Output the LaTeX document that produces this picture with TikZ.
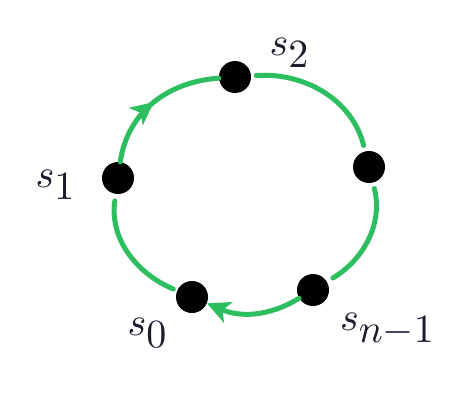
\documentclass[tikz,border=0pt]{standalone}
\usetikzlibrary{arrows.meta,decorations.markings}
\definecolor{mk}{RGB}{45,190,95}
\definecolor{ink}{RGB}{30,25,45}
\begin{document}
\begin{tikzpicture}[x=1pt,y=1pt,
  dot/.style={circle,fill=black,minimum size=32pt,inner sep=0pt},
  arc/.style={draw=mk,line width=5pt,line cap=round},
  lbl/.style={scale=4,text=ink},
  tip/.style={-{Stealth[length=23pt,width=22pt,inset=6pt]}},
  midarrow/.style={decoration={markings,mark=at position #1 with {\arrow{Stealth[length=23pt,width=22pt,inset=6pt]}}},postaction={decorate}}]
\useasboundingbox[fill=white] (0,0) rectangle (465,-401);
\node[dot] (s2) at (235,-77) {};
\node[dot] (r)  at (369,-167) {};
\node[dot] (s1) at (118,-178) {};
\node[dot] (sn) at (313,-290) {};
\node[dot] (s0) at (192,-297) {};
\node[lbl] (l2) at (290,-53) {$s_{\textstyle 2}$};
\node[lbl] (l1) at (56,-185) {$s_{\textstyle 1}$};
\node[lbl] (l0) at (148,-333) {$s_{\textstyle 0}$};
\node[lbl] (ln) at (388,-330) {$s_{\textstyle n{-}1}$};
\draw[arc,midarrow=0.5] (s1) to[out=82,in=184] (s2);
\draw[arc,shorten <=5pt,shorten >=6pt] (s2) to[out=4,in=104] (r);
\draw[arc,shorten <=6pt,shorten >=7pt] (r) to[out=-76,in=31] (sn);
\draw[arc,tip] (sn) to[out=211,in=-23] (s0);
\draw[arc,shorten <=4pt,shorten >=7pt] (s0) to[out=157,in=-98] (s1);
\end{tikzpicture}
\end{document}
